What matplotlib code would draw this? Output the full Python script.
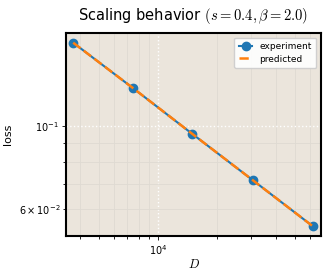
import numpy as np
import matplotlib
matplotlib.use("Agg")
import matplotlib.pyplot as plt

# data
D = [3700, 7450, 15000, 30400, 61500]
loss_exp = [0.1670, 0.1264, 0.0952, 0.0717, 0.0540]
loss_pred = [0.1670, 0.1264, 0.0952, 0.0717, 0.0540]

plt.rcParams['mathtext.fontset'] = 'cm'
plt.rcParams['font.family'] = 'DejaVu Sans'

fig = plt.figure(figsize=(3.29, 2.74), dpi=100)
ax = fig.add_axes([0.2006, 0.1387, 0.7751, 0.7409])
ax.set_facecolor('#ebe5dc')

ax.plot(D, loss_exp, marker='o', linestyle='-', color='#1f77b4',
        linewidth=1.5, markersize=6, label='experiment')
ax.plot(D, loss_pred, linestyle='--', color='#ff7f0e', linewidth=1.8,
        label='predicted')

ax.set_xscale('log')
ax.set_yscale('log')
ax.set_xlim(3400, 67900)
ax.set_ylim(0.0508, 0.1773)

ax.grid(True, which='minor', color='#dedad2', linewidth=0.6)
ax.grid(True, which='major', color='white', linestyle=':', linewidth=1.0)
ax.set_axisbelow(True)

for s in ax.spines.values():
    s.set_linewidth(1.5)
    s.set_color('black')

ax.tick_params(which='both', labelsize=7, length=3, width=0.6, pad=2)
ax.tick_params(which='minor', length=2)
ax.set_xlabel('$D$', fontsize=9, labelpad=1)
ax.set_ylabel('loss', fontsize=8, labelpad=4)
ax.set_title(r'Scaling behavior $(s=0.4, \beta=2.0)$', fontsize=10.5, pad=9)

ax.legend(loc='upper right', fontsize=6.5, framealpha=0.9, handlelength=1.5,
          borderpad=0.5, labelspacing=0.4)

fig.savefig('out.png', dpi=100)
